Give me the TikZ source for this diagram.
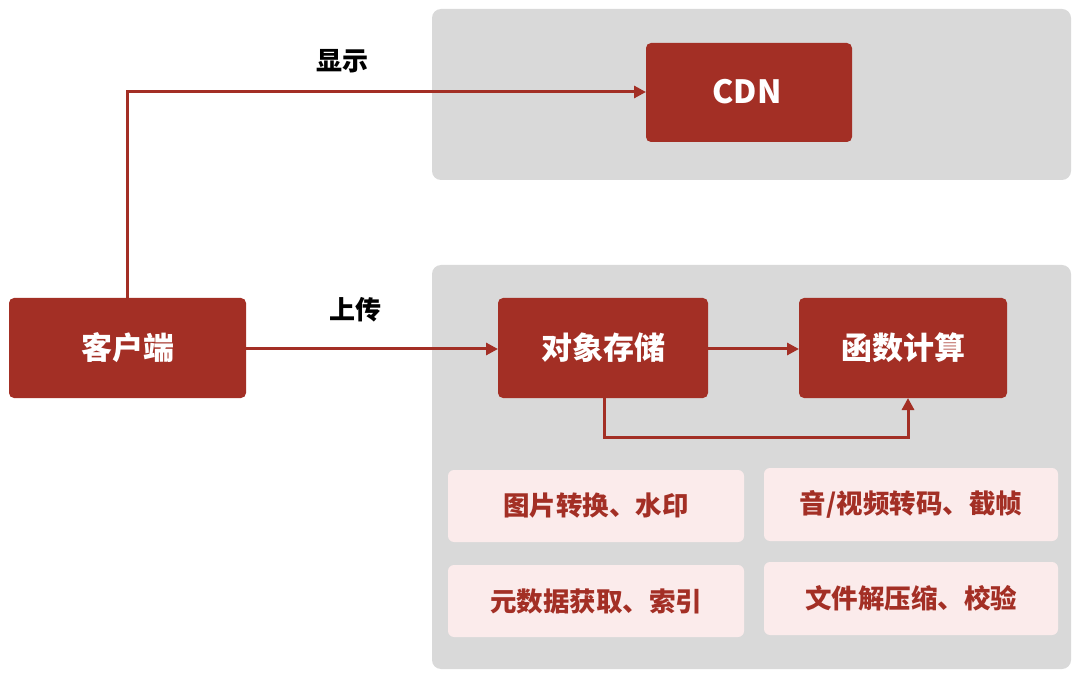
\documentclass[tikz,border=0pt]{standalone}
\usepackage{fontspec}
\setmainfont{Noto Sans CJK SC}[BoldFont={Noto Sans CJK SC Black}]
\usetikzlibrary{arrows.meta}
\definecolor{boxred}{HTML}{A32F25}
\definecolor{panelgray}{HTML}{D9D9D9}
\definecolor{subpink}{HTML}{FBEBEB}
\begin{document}
\begin{tikzpicture}[x=1pt,y=-1pt,
  panel/.style={fill=panelgray,rounded corners=9pt},
  mainbox/.style={fill=boxred,rounded corners=5pt},
  maintext/.style={text=white,font=\bfseries\fontsize{31}{34}\selectfont},
  subbox/.style={fill=subpink,rounded corners=6pt},
  subtext/.style={text=boxred,font=\bfseries\fontsize{26.5}{30}\selectfont},
  flow/.style={draw=boxred,line width=3pt,-{Triangle[length=12pt,width=12pt]}},
  lbl/.style={text=black,font=\bfseries\fontsize{26}{28}\selectfont}]
\useasboundingbox (0,0) rectangle (1080,679);
% panels
\fill[panel] (432,9) rectangle (1071,180);
\fill[panel] (432,265) rectangle (1071,669);
% main boxes
\path[mainbox] (646,43) rectangle (852,142);
\node[maintext,font=\bfseries\fontsize{32}{34}\selectfont] (cdn) at (747,92) {CDN};
\path[mainbox] (9,298) rectangle (246,398);
\node[maintext] (client) at (127.5,348) {客户端};
\path[mainbox] (498,298) rectangle (708,398);
\node[maintext] (oss) at (603,348) {对象存储};
\path[mainbox] (799,298) rectangle (1007,398);
\node[maintext] (fc) at (903,348) {函数计算};
% anchors at the box borders
\coordinate (cdnW) at (646,92);
\coordinate (clientN) at (127,298);
\coordinate (clientE) at (246,349);
\coordinate (ossW) at (498,349);
\coordinate (ossE) at (708,349);
\coordinate (fcW) at (799,349);
\coordinate (ossS) at (604,398);
\coordinate (fcS) at (908,398);
% sub boxes
\path[subbox] (448,470) rectangle (744,542);
\node[subtext] (s1) at (596,506) {图片转换、水印};
\path[subbox] (764,468) rectangle (1058,541);
\node[subtext] (s2) at (911,504.5) {音/视频转码、截帧};
\path[subbox] (448,565) rectangle (744,637);
\node[subtext] (s3) at (596,601) {元数据获取、索引};
\path[subbox] (764,562) rectangle (1058,635);
\node[subtext] (s4) at (911,598.5) {文件解压缩、校验};
% connectors
\draw[flow] (clientN) |- (cdnW);
\draw[flow] (clientE) -- (ossW);
\draw[flow] (ossE) -- (fcW);
\draw[flow] (ossS) -- (604,437) -| (fcS);
% labels
\node[lbl] (show) at (342,61) {显示};
\node[lbl] (upload) at (355,310) {上传};
\end{tikzpicture}
\end{document}
